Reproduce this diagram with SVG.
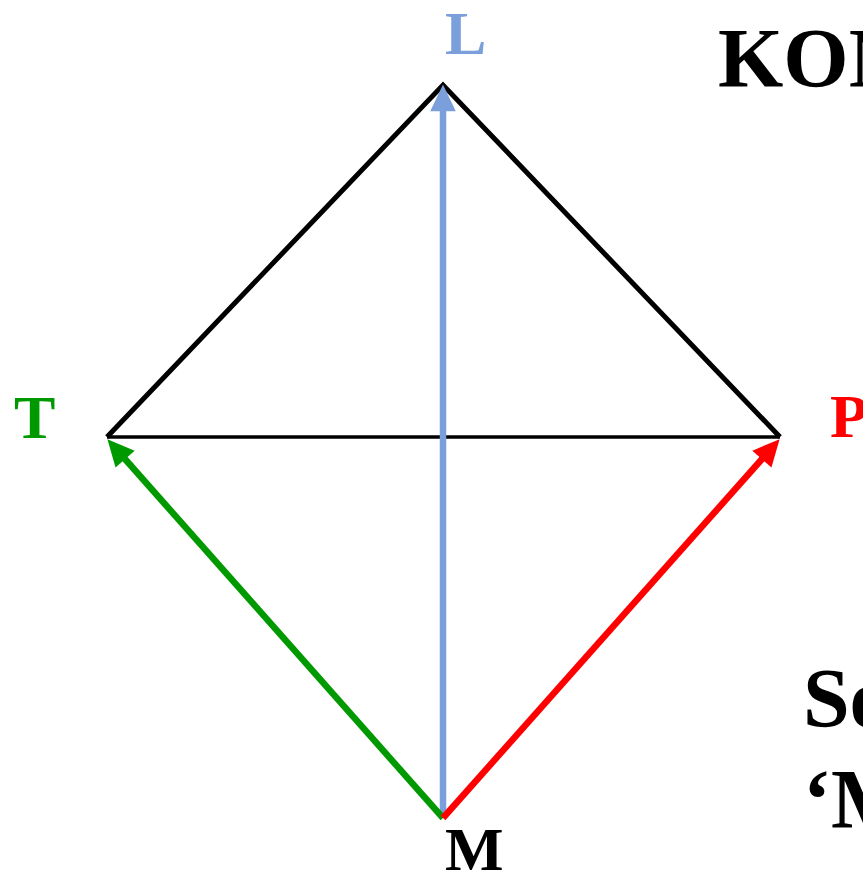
<svg xmlns="http://www.w3.org/2000/svg" width="863" height="875" viewBox="0 0 863 875">
<style>
.lbl{font-family:"Liberation Serif","Times New Roman",serif;font-weight:bold;font-size:62px}
.big{font-family:"Liberation Serif","Times New Roman",serif;font-weight:bold;font-size:84px;fill:#000}
.edge{fill:none;stroke:#000;stroke-linejoin:miter}
.arr{fill:none;stroke-width:6.5}
</style>
<defs>
<marker id="hb" markerUnits="userSpaceOnUse" orient="auto" refX="0" refY="0" markerWidth="30" markerHeight="30" viewBox="-13 -13 27 26" overflow="visible"><path d="M-11,-11.5 L13,0 L-11,11.5 z" fill="#7b9fdb"/></marker>
<marker id="hg" markerUnits="userSpaceOnUse" orient="auto" refX="0" refY="0" markerWidth="30" markerHeight="30" viewBox="-13 -13 27 26" overflow="visible"><path d="M-11,-11.5 L13,0 L-11,11.5 z" fill="#009900"/></marker>
<marker id="hr" markerUnits="userSpaceOnUse" orient="auto" refX="0" refY="0" markerWidth="30" markerHeight="30" viewBox="-13 -13 27 26" overflow="visible"><path d="M-11,-11.5 L13,0 L-11,11.5 z" fill="#ff0000"/></marker>
</defs>
<rect width="863" height="875" fill="#fff"/>
<g id="connectors">
<polyline class="edge" points="107,437 443,85 780,437" stroke-width="5"/>
<line class="edge" x1="107" y1="437" x2="780" y2="437" stroke-width="3.5"/>
<line class="arr" x1="443" y1="818" x2="443" y2="99" stroke="#7b9fdb" marker-end="url(#hb)"/>
<line class="arr" x1="443" y1="818" x2="117" y2="450" stroke="#009900" marker-end="url(#hg)"/>
<line class="arr" x1="443" y1="818" x2="770" y2="450" stroke="#ff0000" marker-end="url(#hr)"/>
</g>
<g id="node-L"><text class="lbl" x="445" y="54" fill="#7b9fdb">L</text></g>
<g id="node-T"><text class="lbl" x="14" y="438" fill="#009900">T</text></g>
<g id="node-P"><text class="lbl" x="830" y="437" fill="#ff0000">P</text></g>
<g id="node-M"><text class="lbl" x="445" y="870" fill="#000">M</text></g>
<g id="titles">
<text class="big" x="718" y="87">KON</text>
<text class="big" x="803" y="727">Se</text>
<text class="big" x="803" y="828">‘M</text>
</g>
</svg>
